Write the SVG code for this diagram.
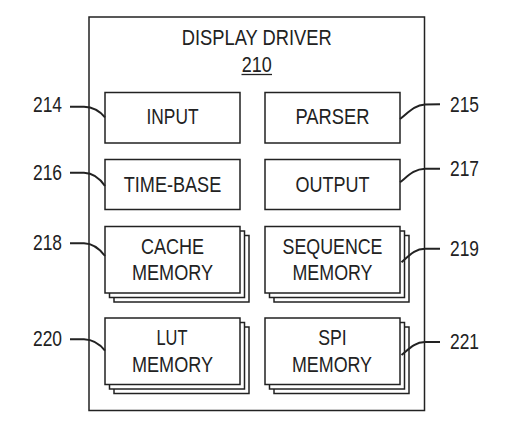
<svg xmlns="http://www.w3.org/2000/svg" width="512" height="425" viewBox="0 0 512 425">
  <defs>
    <style>
      .box { fill: #fff; stroke: #222; stroke-width: 1.5; }
      .outer { fill: none; stroke: #222; stroke-width: 1.5; }
      .t { font-family: "Liberation Sans", Arial, sans-serif; font-size: 21.5px; fill: #222; }
      .c { text-anchor: middle; }
      .e { text-anchor: end; }
      .lead { fill: none; stroke: #222; stroke-width: 2; }
    </style>
  </defs>
  <rect width="512" height="425" fill="#fff"/>

  <g id="display-driver">
    <rect class="outer" x="89" y="17" width="335.5" height="393.5"/>
    <text class="t c" x="256.7" y="45" textLength="150" lengthAdjust="spacingAndGlyphs">DISPLAY DRIVER</text>
    <text class="t c" x="256.7" y="71.5" textLength="30" lengthAdjust="spacingAndGlyphs">210</text>
    <line x1="241.5" y1="74.5" x2="272" y2="74.5" stroke="#222" stroke-width="1.3"/>
  </g>

  <g id="input">
    <rect class="box" x="105" y="92.5" width="135" height="50.5"/>
    <text class="t c" x="172.5" y="124" textLength="52" lengthAdjust="spacingAndGlyphs">INPUT</text>
  </g>
  <g id="parser">
    <rect class="box" x="265" y="92.5" width="135" height="50.5"/>
    <text class="t c" x="332.5" y="124" textLength="74" lengthAdjust="spacingAndGlyphs">PARSER</text>
  </g>
  <g id="time-base">
    <rect class="box" x="105" y="159.5" width="135" height="50"/>
    <text class="t c" x="172.5" y="191.5" textLength="97.5" lengthAdjust="spacingAndGlyphs">TIME-BASE</text>
  </g>
  <g id="output">
    <rect class="box" x="265" y="159.5" width="135" height="50"/>
    <text class="t c" x="332.5" y="191.5" textLength="74" lengthAdjust="spacingAndGlyphs">OUTPUT</text>
  </g>
  <g id="cache-memory">
    <rect class="box" x="114" y="235.5" width="135" height="66.5"/>
    <rect class="box" x="109.5" y="231" width="135" height="66.5"/>
    <rect class="box" x="105" y="226.5" width="135" height="66.5"/>
    <text class="t c" x="172.5" y="253.5" textLength="63" lengthAdjust="spacingAndGlyphs">CACHE</text>
    <text class="t c" x="172.5" y="280" textLength="81" lengthAdjust="spacingAndGlyphs">MEMORY</text>
  </g>
  <g id="sequence-memory">
    <rect class="box" x="274" y="235.5" width="135" height="66.5"/>
    <rect class="box" x="269.5" y="231" width="135" height="66.5"/>
    <rect class="box" x="265" y="226.5" width="135" height="66.5"/>
    <text class="t c" x="332.5" y="253.5" textLength="100" lengthAdjust="spacingAndGlyphs">SEQUENCE</text>
    <text class="t c" x="332.5" y="280" textLength="80" lengthAdjust="spacingAndGlyphs">MEMORY</text>
  </g>
  <g id="lut-memory">
    <rect class="box" x="114" y="327" width="135" height="66.5"/>
    <rect class="box" x="109.5" y="322.5" width="135" height="66.5"/>
    <rect class="box" x="105" y="318" width="135" height="66.5"/>
    <text class="t c" x="172" y="345" textLength="31" lengthAdjust="spacingAndGlyphs">LUT</text>
    <text class="t c" x="172.5" y="371.5" textLength="81" lengthAdjust="spacingAndGlyphs">MEMORY</text>
  </g>
  <g id="spi-memory">
    <rect class="box" x="274" y="327" width="135" height="66.5"/>
    <rect class="box" x="269.5" y="322.5" width="135" height="66.5"/>
    <rect class="box" x="265" y="318" width="135" height="66.5"/>
    <text class="t c" x="332.5" y="345" textLength="28.5" lengthAdjust="spacingAndGlyphs">SPI</text>
    <text class="t c" x="332" y="371.5" textLength="80" lengthAdjust="spacingAndGlyphs">MEMORY</text>
  </g>

  <g id="connectors">
    <path class="lead" d="M70,106.7 L84,106.7 C93,107 99,110 105,117.3"/>
    <path class="lead" d="M70,172.7 L84,172.7 C93,173 99,177 105,186"/>
    <path class="lead" d="M70,243.3 L84,243.3 C93,243.6 99,248 105,256"/>
    <path class="lead" d="M70,339.3 L84,339.3 C93,339.6 99,343 105,350.7"/>
    <path class="lead" d="M400,119 C408,113 414,105 425,104.5 L440,104.3"/>
    <path class="lead" d="M400,182.3 C408,176 414,169 425,168.8 L440,168.7"/>
    <path class="lead" d="M401.5,262.3 C409,256 414,249 425,248.8 L440,248.7"/>
    <path class="lead" d="M401.5,355 C409,349 414,342.3 425,342.1 L440,342"/>
  </g>

  <g id="labels">
    <text class="t e" x="62" y="112" textLength="29" lengthAdjust="spacingAndGlyphs">214</text>
    <text class="t" x="450" y="112" textLength="29" lengthAdjust="spacingAndGlyphs">215</text>
    <text class="t e" x="62" y="180" textLength="29" lengthAdjust="spacingAndGlyphs">216</text>
    <text class="t" x="450" y="175.5" textLength="29" lengthAdjust="spacingAndGlyphs">217</text>
    <text class="t e" x="62" y="250" textLength="29" lengthAdjust="spacingAndGlyphs">218</text>
    <text class="t" x="450" y="255.5" textLength="29" lengthAdjust="spacingAndGlyphs">219</text>
    <text class="t e" x="62" y="345.5" textLength="29" lengthAdjust="spacingAndGlyphs">220</text>
    <text class="t" x="450" y="348.5" textLength="29" lengthAdjust="spacingAndGlyphs">221</text>
  </g>
</svg>
